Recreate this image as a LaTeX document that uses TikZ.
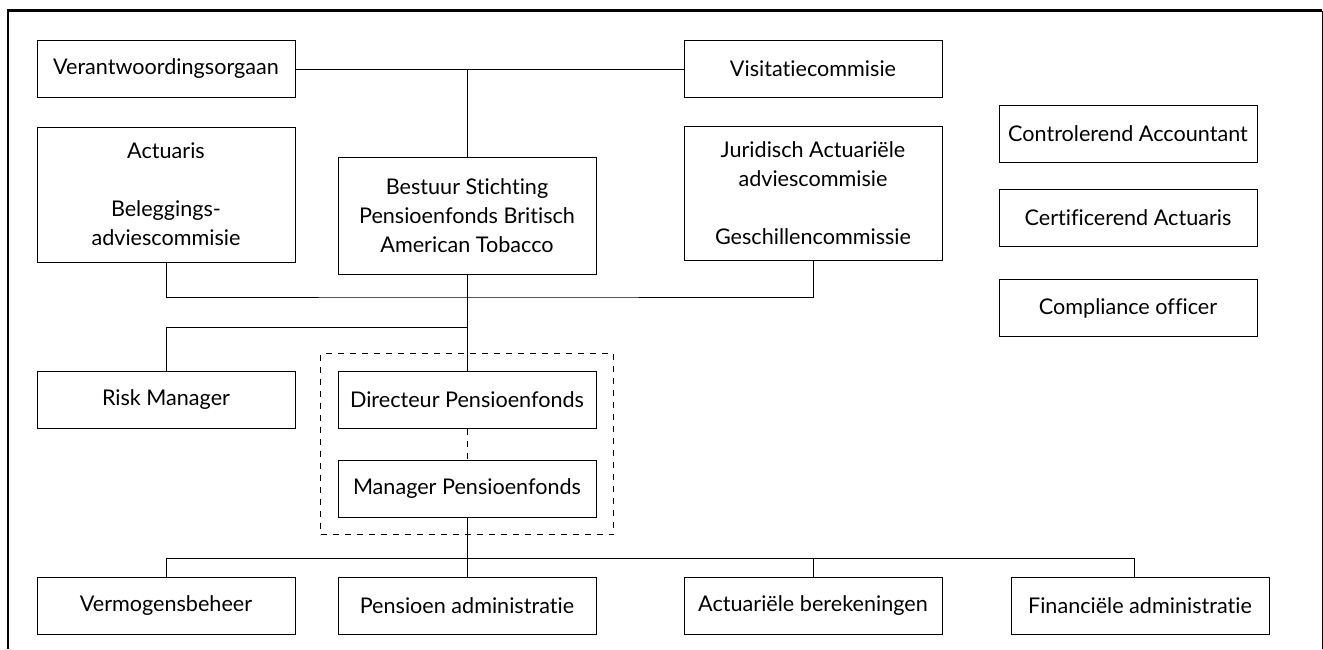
\documentclass[tikz,border=0pt]{standalone}
\usepackage{fontspec}
\setmainfont{Lato}[Ligatures=NoCommon]
\usepackage{tikz}
\usetikzlibrary{fit}

\begin{document}
\begin{tikzpicture}[x=0.5pt, y=-0.5pt, line width=0.5pt,
  unit/.style={draw, inner sep=0pt, minimum width=129pt, minimum height=28.5pt,
    align=center, font=\fontsize{10.8}{14.5}\selectfont},
  link/.style={line width=0.5pt}]
  \useasboundingbox (0,0) rectangle (1323,649);

  % Frame
  \draw[line width=1.3pt] (8,649) -- (8,10.5) -- (1322,10.5);
  \draw (1322,10.5) -- (1322,649);

  % Toezicht en bestuur
  \node[unit] (verant) at (166,69) {Verantwoordingsorgaan};
  \node[unit] (visit) at (813,69) {Visitatiecommisie};
  \node[unit, minimum height=67.5pt] (act) at (166,194.5)
    {Actuaris\\[14.5pt]Beleggings-\\adviescommisie};
  \node[unit, minimum height=58.5pt] (bestuur) at (467,215.5)
    {Bestuur Stichting\\Pensioenfonds Britisch\\American Tobacco};
  \node[unit, minimum height=67pt] (jur) at (813,193)
    {Juridisch Actuariële\\adviescommisie\\[14.5pt]Geschillencommissie};

  % Externe functies
  \node[unit] (contr) at (1128,134) {Controlerend Accountant};
  \node[unit] (cert) at (1128,217.5) {Certificerend Actuaris};
  \node[unit] (compl) at (1128,308) {Compliance officer};

  % Directie
  \node[unit] (risk) at (166,400) {Risk Manager};
  \node[unit] (dir) at (467,399.5) {Directeur Pensioenfonds};
  \node[unit] (man) at (467,488.5) {Manager Pensioenfonds};
  \node[draw, dashed, inner sep=8.5pt, fit=(dir)(man)] (team) {};

  % Uitvoering
  \node[unit] (verm) at (166,606) {Vermogensbeheer};
  \node[unit] (pens) at (467,606) {Pensioen administratie};
  \node[unit] (actb) at (813,606) {Actuariële berekeningen};
  \node[unit] (fin) at (1140,606) {Financiële administratie};

  \coordinate (hubA) at (467,297);
  \coordinate (hubB) at (467,327);
  \coordinate (bus) at (467,558);

  % Lijnen
  \draw[link] (verant.east) -- (visit.west);
  \draw[link] (bestuur.north) -- (bestuur.north |- verant.east);
  \draw[link] (act.south) |- (hubA) -| (jur.south);
  \draw[link] (bestuur.south) -- (dir.north);
  \draw[link] (risk.north) |- (hubB);
  \draw[link, dashed] (dir.south) -- (man.north);
  \draw[link] (man.south) -- (pens.north);
  \draw[link] (verm.north) |- (bus) -| ([xshift=-3pt]fin.north);
  \draw[link] (actb.north) -- (actb.north |- bus);
\end{tikzpicture}
\end{document}
